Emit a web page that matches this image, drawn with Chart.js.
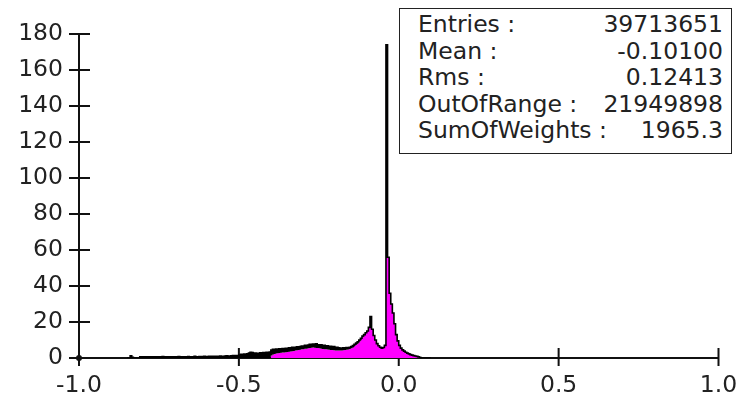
<!DOCTYPE html>
<html>
<head>
<meta charset="utf-8">
<script src="https://cdn.jsdelivr.net/npm/chart.js@4.4.1/dist/chart.umd.min.js"></script>
<style>
  html, body { margin: 0; padding: 0; background: #fff; }
  #wrap { position: relative; width: 747px; height: 398px; }
  #stats {
    position: absolute; left: 399px; top: 8px; width: 331px; height: 142px;
    border: 1px solid #222; background: #fff;
    font-family: "DejaVu Sans", sans-serif; font-size: 23.5px; color: #222;
    box-sizing: content-box; padding-top: 2px;
  }
  #stats .row { display: flex; justify-content: space-between; line-height: 26.6px; height: 26.6px; padding: 0 8px 0 18px; white-space: pre; }
</style>
</head>
<body>
<div id="wrap">
  <canvas id="histo" width="747" height="398"></canvas>
  <div id="stats"></div>
</div>
<script>
// histogram binning (bin low edge of first bin, bin width)
const binLow = -0.85;
const binWidth = 0.005;

// all entries (black)
const totalCounts = [
  0, 0, 1.2, 0.4, 0, 0, 0, 0, 0.6, 0.5,
  0.7, 0.6, 0.5, 0.6, 0.7, 0.5, 0.6, 0.6, 0.7, 0.5,
  0.6, 0.6, 0.8, 0.6, 0.5, 0.7, 0.6, 0.6, 0.7, 0.6,
  0.5, 0.7, 0.8, 0.6, 0.6, 0.7, 0.5, 0.6, 0.8, 0.7,
  0.6, 0.7, 0.9, 0.7, 0.6, 0.8, 0.7, 0.8, 0.9, 0.8,
  0.7, 0.9, 1.0, 0.8, 0.9, 1.0, 0.9, 1.0, 1.1, 1.0,
  0.9, 1.1, 1.2, 1.0, 1.1, 1.2, 1.3, 1.2, 1.3, 1.4,
  1.6, 2.0, 1.8, 2.2, 2.0, 2.4, 2.8, 3.2, 3.0, 2.6,
  2.8, 2.4, 2.6, 2.9, 2.7, 3.0, 2.8, 3.1, 3.0, 3.3,
  4.4, 4.8, 4.6, 5.0, 4.8, 5.1, 5.0, 5.3, 5.1, 5.4,
  5.3, 5.6, 5.5, 5.9, 5.7, 6.0, 6.2, 6.0, 6.4, 6.6,
  6.5, 7.0, 6.8, 7.2, 7.6, 7.3, 7.8, 7.5, 7.9, 7.4,
  7.1, 7.3, 6.9, 7.0, 6.6, 6.8, 6.4, 6.5, 6.1, 6.3,
  5.9, 6.0, 5.6, 5.5, 5.3, 5.6, 5.4, 5.8, 5.6, 6.0,
  6.4, 6.9, 7.6, 8.3, 9.0, 10.0, 11.0, 12.2, 13.0, 14.0,
  15.0, 17.0, 23.0, 16.0, 12.5, 10.0, 8.0, 6.8, 6.0, 5.5,
  5.8, 7.0, 174, 56, 36, 30, 25, 19, 13, 9.5,
  7.0, 5.5, 4.5, 3.8, 3.2, 2.7, 2.3, 1.9, 1.6, 1.3,
  1.1, 0.9, 0.6, 0.3, 0, 0, 0, 0, 0, 0
];

// selected entries (magenta fill)
const selCounts = [
  0, 0, 0, 0, 0, 0, 0, 0, 0, 0,
  0, 0, 0, 0, 0, 0, 0, 0, 0, 0,
  0, 0, 0, 0, 0, 0, 0, 0, 0, 0,
  0, 0, 0, 0, 0, 0, 0, 0, 0, 0,
  0, 0, 0, 0, 0, 0, 0, 0, 0, 0,
  0, 0, 0, 0, 0, 0, 0, 0, 0, 0,
  0, 0, 0, 0, 0, 0, 0, 0, 0, 0,
  0, 0, 0, 0, 0, 0, 0, 0, 0, 0,
  0, 0, 0, 0, 0, 0, 0, 0, 0, 0,
  1.4, 2.0, 2.2, 2.5, 2.6, 2.8, 2.9, 3.0, 3.1, 3.2,
  3.3, 3.5, 3.6, 3.8, 3.9, 4.1, 4.3, 4.4, 4.6, 4.8,
  4.9, 5.1, 5.2, 5.4, 5.6, 5.7, 5.8, 5.7, 5.6, 5.5,
  5.4, 5.2, 5.0, 4.9, 4.8, 4.7, 4.6, 4.5, 4.4, 4.3,
  4.2, 4.2, 4.1, 4.1, 4.2, 4.3, 4.4, 4.6, 4.7, 5.0,
  5.4, 5.9, 6.6, 7.3, 8.1, 9.1, 10.2, 11.5, 12.6, 13.7,
  15.0, 17.0, 23.0, 16.0, 12.5, 10.0, 8.0, 6.8, 6.0, 5.5,
  5.8, 7.0, 174, 56, 36, 30, 25, 19, 13, 9.5,
  7.0, 5.5, 4.5, 3.8, 3.2, 2.7, 2.3, 1.9, 1.6, 1.3,
  1.1, 0.9, 0.6, 0.3, 0, 0, 0, 0, 0, 0
];

const xTickValues = [-1, -0.5, 0, 0.5, 1];
const xTickLabels = ['-1.0', '-0.5', '0.0', '0.5', '1.0'];
const yTickValues = [0, 20, 40, 60, 80, 100, 120, 140, 160, 180];

const statLabels = ['Entries :', 'Mean :', 'Rms :', 'OutOfRange :', 'SumOfWeights :'];
const statValues = ['39713651', '-0.10100', '0.12413', '21949898', '1965.3'];

// stats box
const statsBox = document.getElementById('stats');
statLabels.forEach((lab, i) => {
    const row = document.createElement('div');
    row.className = 'row';
    const a = document.createElement('span'); a.textContent = lab;
    const b = document.createElement('span'); b.textContent = statValues[i];
    row.appendChild(a); row.appendChild(b);
    statsBox.appendChild(row);
});

// bins -> step points (low edges + last high edge)
function toPoints(counts) {
    const pts = counts.map((v, i) => ({ x: binLow + i * binWidth, y: v }));
    pts.push({ x: binLow + counts.length * binWidth, y: counts[counts.length - 1] });
    return pts;
}

// JAS style axes: lines with ticks crossing the axis
const axesPlugin = {
    id: 'axes',
    beforeDatasetsDraw(chart) {
        const { ctx, scales: { x, y } } = chart;
        const y0 = y.getPixelForValue(0);
        const x0 = x.getPixelForValue(-1);
        ctx.save();
        ctx.strokeStyle = '#111';
        ctx.lineWidth = 2;
        ctx.beginPath();
        ctx.moveTo(x0, y.getPixelForValue(180));
        ctx.lineTo(x0, y0);
        for (const v of yTickValues) {
            const py = y.getPixelForValue(v);
            ctx.moveTo(x0 - 10, py);
            ctx.lineTo(x0 + 11, py);
        }
        ctx.moveTo(x0, y0);
        ctx.lineTo(x.getPixelForValue(1), y0);
        for (const v of xTickValues) {
            const px = x.getPixelForValue(v);
            ctx.moveTo(px, y0 - 10);
            ctx.lineTo(px, y0 + 8);
        }
        ctx.stroke();
        ctx.fillStyle = '#111';
        ctx.beginPath();
        ctx.arc(x0, y0, 3, 0, Math.PI * 2);
        ctx.fill();
        ctx.restore();
    }
};

const ctx = document.getElementById('histo').getContext('2d');
new Chart(ctx, {
    type: 'line',
    data: {
        datasets: [{
            label: 'all',
            data: toPoints(totalCounts),
            stepped: true,
            borderColor: '#000',
            borderWidth: 1.6,
            backgroundColor: '#000',
            fill: '+1',
            pointRadius: 0
        }, {
            label: 'selected',
            data: toPoints(selCounts),
            stepped: true,
            borderWidth: 0,
            borderColor: 'rgba(0,0,0,0)',
            backgroundColor: '#ff00ff',
            fill: 'origin',
            pointRadius: 0
        }]
    },
    plugins: [axesPlugin],
    options: {
        responsive: false,
        animation: false,
        layout: { padding: { top: 34, right: 28.5, left: 0, bottom: 0 } },
        plugins: { legend: { display: false }, tooltip: { enabled: false } },
        scales: {
            x: {
                type: 'linear',
                min: -1, max: 1,
                grid: { display: false, drawTicks: false },
                border: { display: false },
                afterBuildTicks: s => { s.ticks = xTickValues.map(v => ({ value: v })); },
                afterFit: s => { s.height = 40; s.paddingLeft = 0; s.paddingRight = 0; },
                ticks: {
                    padding: 14,
                    color: '#222',
                    font: { family: 'DejaVu Sans', size: 23.5 },
                    callback: (v) => xTickLabels[xTickValues.indexOf(v)]
                }
            },
            y: {
                min: 0, max: 180,
                grid: { display: false, drawTicks: false },
                border: { display: false },
                afterBuildTicks: s => { s.ticks = yTickValues.map(v => ({ value: v })); },
                afterFit: s => { s.width = 79; },
                ticks: {
                    padding: 16,
                    color: '#222',
                    font: { family: 'DejaVu Sans', size: 23.5 }
                }
            }
        }
    }
});
</script>
</body>
</html>
